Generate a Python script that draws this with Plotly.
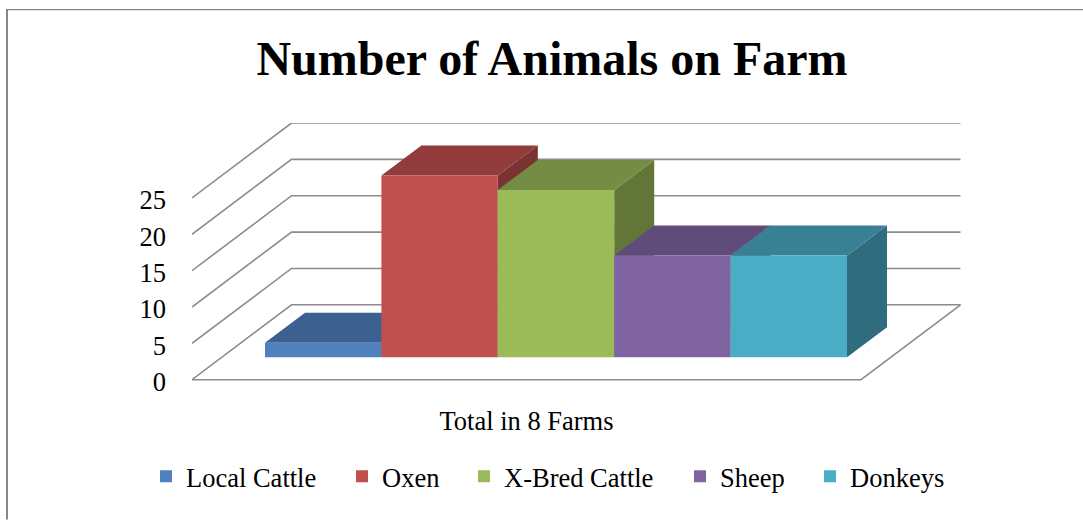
import plotly.graph_objects as go

categories = ["Local Cattle", "Oxen", "X-Bred Cattle", "Sheep", "Donkeys"]
values = [2, 25, 23, 14, 14]
front_colors = ["#4F81BD", "#C0504D", "#9BBB59", "#8064A2", "#4BACC6"]
top_colors = ["#3C6191", "#913C3A", "#748C43", "#604B7A", "#388195"]
side_colors = ["#33527B", "#7B3331", "#627737", "#513F67", "#2F6D7E"]
y_ticks = [0, 5, 10, 15, 20, 25]
group_label = ["Total in 8 Farms"]
legend_text_left = [186, 382, 504, 720, 850]

W, H = 1083, 520
PX_Y = 7.28
PX_X = 116.4
ZERO_PX = 380
L, R, T, B = 192, 961, 123, ZERO_PX + PX_Y
X_AT = lambda px: (px - 265) / PX_X - 0.5
PAPER_X = lambda px: (px - L) / (R - L)
PAPER_Y = lambda px: (B - px) / (B - T)

xr = [X_AT(L), X_AT(R)]
yr = [-1, (ZERO_PX - T) / PX_Y]
floor_x0, floor_x1 = X_AT(192), X_AT(861)
wall_dx, wall_dy = 99.5 / PX_X, 75 / PX_Y
bar_base = 0.3 * wall_dy
bar_dx, bar_dy = 40 / PX_X, 30 / PX_Y
GRID = "#8C8C8C"
FONT = 26.5
LABEL_NUDGE = 2 / PX_Y

fig = go.Figure()


def poly(xs, ys, color):
    fig.add_trace(go.Scatter(x=xs, y=ys, mode="lines", fill="toself", fillcolor=color,
                             line=dict(width=0, color=color), hoverinfo="skip",
                             showlegend=False, xaxis="x", yaxis="y"))


def line(xs, ys):
    fig.add_trace(go.Scatter(x=xs, y=ys, mode="lines", line=dict(width=1.6, color=GRID),
                             hoverinfo="skip", showlegend=False, xaxis="x", yaxis="y"))


# walls and floor
for t in y_ticks:
    line([floor_x0, floor_x0 + wall_dx, floor_x1 + wall_dx], [t, t + wall_dy, t + wall_dy])
line([floor_x0, floor_x1, floor_x1 + wall_dx], [0, 0, wall_dy])

# depth faces of each box, left to right
for i, v in enumerate(values):
    top = bar_base + v
    xl, xr_ = i - 0.5, i + 0.5
    poly([xr_, xr_ + bar_dx, xr_ + bar_dx, xr_, xr_],
         [bar_base, bar_base + bar_dy, top + bar_dy, top, bar_base], side_colors[i])
    poly([xl, xr_, xr_ + bar_dx, xl + bar_dx, xl],
         [top, top, top + bar_dy, top + bar_dy, top], top_colors[i])

# front faces on an overlaying pair of axes so that they cover the depth faces
legends = {}
for i, (c, v) in enumerate(zip(categories, values)):
    key = "legend" if i == 0 else f"legend{i + 1}"
    fig.add_trace(go.Bar(name=c, x=[i], y=[v], base=[bar_base], width=[1],
                         marker=dict(color=front_colors[i], line=dict(width=0)),
                         hovertemplate=c + ": %{y}<extra></extra>",
                         xaxis="x2", yaxis="y2", legend=key, showlegend=True))
    legends[key] = dict(orientation="h", x=PAPER_X(legend_text_left[i] - 40), xanchor="left",
                        y=PAPER_Y(477), yanchor="middle", bgcolor="rgba(0,0,0,0)",
                        font=dict(size=FONT), itemclick=False, itemdoubleclick=False)

fig.update_layout(
    width=W, height=H,
    margin=dict(l=L, r=W - R, t=T, b=H - B, autoexpand=False, pad=0),
    paper_bgcolor="white", plot_bgcolor="rgba(0,0,0,0)",
    font=dict(family="Liberation Serif", color="black", size=FONT),
    title=dict(text="<b>Number of Animals on Farm</b>", x=552 / W, xanchor="center",
               y=1 - 58 / H, yanchor="middle", font=dict(size=48, family="Liberation Serif")),
    barmode="overlay",
    xaxis=dict(range=xr, tickvals=[(floor_x0 + floor_x1) / 2], ticktext=group_label,
               showgrid=False, zeroline=False, showline=False, ticks="", ticklabelstandoff=15,
               fixedrange=True),
    yaxis=dict(range=yr, tickvals=[t - LABEL_NUDGE for t in y_ticks],
               ticktext=[str(t) for t in y_ticks], showgrid=False, zeroline=False, showline=False,
               ticks="", ticklabelstandoff=25, fixedrange=True),
    xaxis2=dict(range=xr, overlaying="x", visible=False, fixedrange=True),
    yaxis2=dict(range=yr, overlaying="y", visible=False, fixedrange=True),
    shapes=[
        dict(type="line", xref="paper", yref="paper", x0=PAPER_X(7), x1=PAPER_X(W),
             y0=PAPER_Y(9.5), y1=PAPER_Y(9.5), line=dict(color="#868686", width=1.3)),
        dict(type="line", xref="paper", yref="paper", x0=PAPER_X(7), x1=PAPER_X(7),
             y0=PAPER_Y(9), y1=PAPER_Y(H), line=dict(color="#868686", width=2)),
    ],
    **legends,
)

fig.write_html("out.html", config=dict(displayModeBar=False),
               post_script="document.body.style.margin='0';")
